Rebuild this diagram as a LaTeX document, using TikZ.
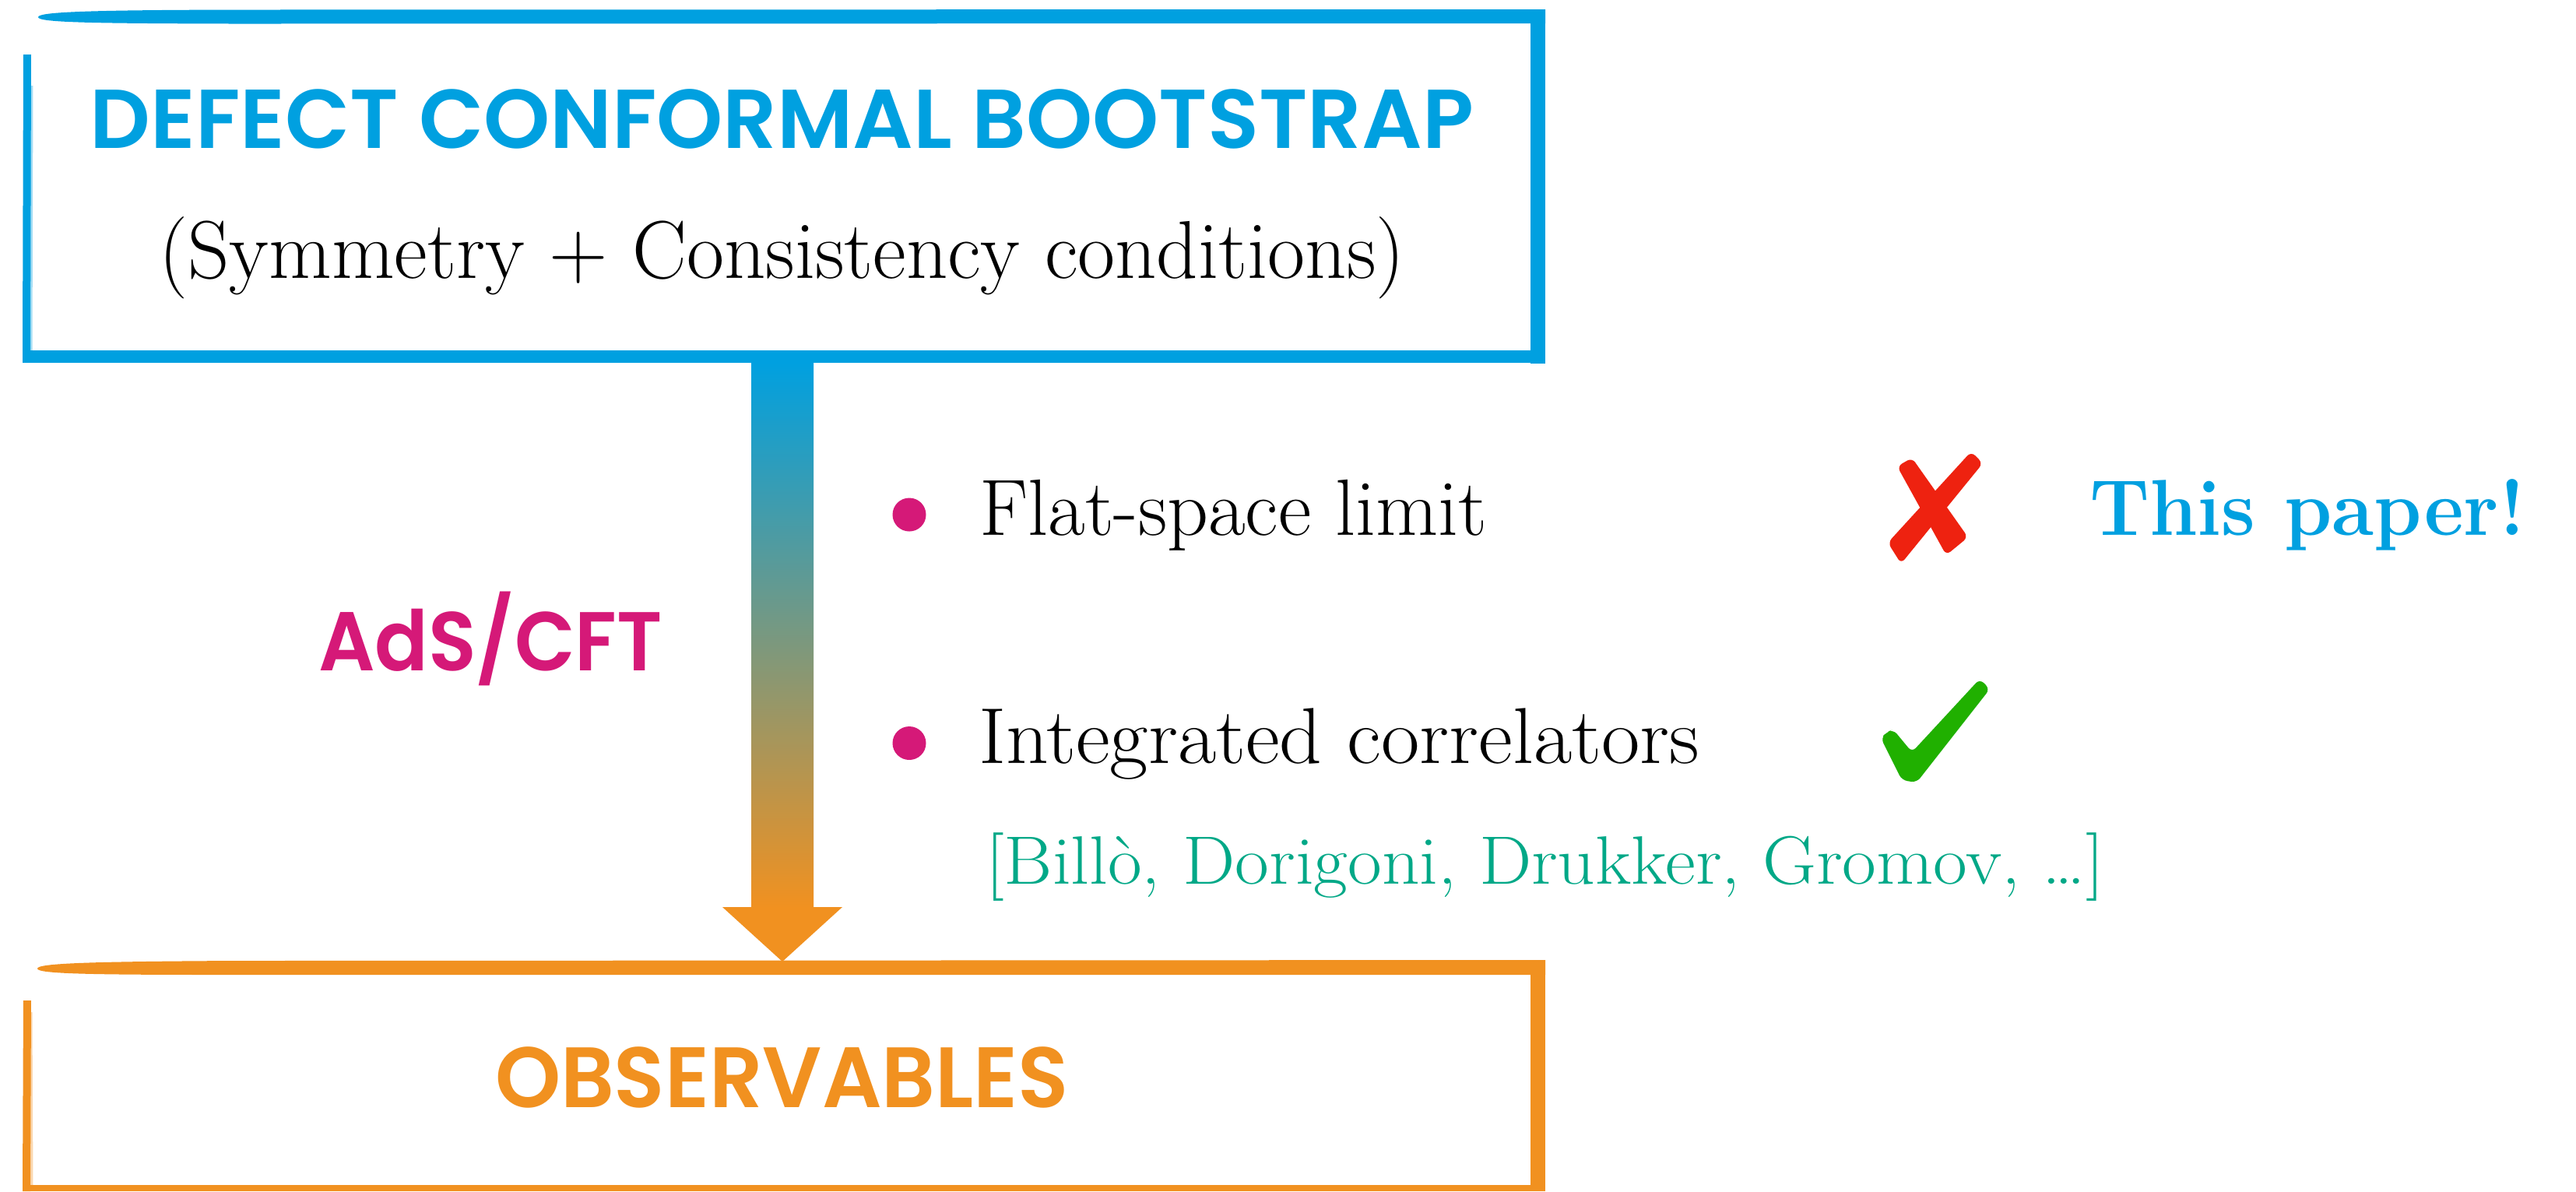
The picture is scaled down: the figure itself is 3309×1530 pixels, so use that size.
\documentclass[tikz,border=0pt]{standalone}
\usepackage{fontspec}
\usepackage{graphicx}
\usetikzlibrary{calc}
\newfontfamily\hfont{Poppins SemiBold}
\definecolor{blueC}{RGB}{0,160,224}
\definecolor{orangeC}{RGB}{241,145,32}
\definecolor{magentaC}{RGB}{213,25,120}
\definecolor{tealC}{RGB}{0,168,135}
\definecolor{greenC}{RGB}{32,176,0}
\definecolor{redC}{RGB}{238,34,16}
\newcommand{\fitto}[2]{\resizebox{#1}{\height}{#2}}
\tikzset{
  lbl/.style={inner sep=0pt, outer sep=0pt},
  boxarea/.style={draw=none, inner sep=0pt, rectangle},
  bulletdot/.style={circle, fill=magentaC, inner sep=0pt, minimum size=4.3mm},
}
\begin{document}
\begin{tikzpicture}[x=0.1mm,y=-0.1mm]
\fill[white] (0,0) rectangle (3309,1530);
\useasboundingbox (0,0) rectangle (3309,1530);

% box areas
\node[boxarea, minimum width=195.3mm, minimum height=45.5mm] (topbox) at (1008.5,239.5) {};
\node[boxarea, minimum width=195.3mm, minimum height=29.7mm] (botbox) at (1008.5,1381.5) {};

% top box border (sketchy)
\fill[blueC] (49,22) .. controls (49,15) and (120,13) .. (300,12.5) -- (1985,12) -- (1985,30) -- (300,30.5) .. controls (120,30) and (49,29) .. (49,22) -- cycle;
\fill[blueC] (1966,12) rectangle (1985,467);
\fill[blueC] (29,450) rectangle (1985,466);
\draw[blueC, line width=1mm] (35,70) -- (34,458);
\draw[blueC, opacity=0.35, line width=0.5mm] (40,110) -- (39,455);

% bottom box border (sketchy)
\fill[orangeC] (48,1244) .. controls (48,1237) and (120,1235) .. (300,1234) -- (1985,1233) -- (1985,1252) -- (300,1252) .. controls (120,1252) and (48,1251) .. (48,1244) -- cycle;
\fill[orangeC] (1966,1233) rectangle (1985,1530);
\fill[orangeC] (33,1522) rectangle (1985,1530);
\draw[orangeC, line width=1mm] (35,1285) -- (34,1530);
\draw[orangeC, opacity=0.35, line width=0.5mm] (39,1300) -- (40,1522);

% arrow
\coordinate (arrowtop) at (1005,466);
\coordinate (arrowtip) at (1005,1235);
\shade[top color=blueC, bottom color=orangeC] ($(arrowtop)+(-40,0)$) rectangle ($(arrowtip)+(40,-69)$);
\fill[orangeC] ($(arrowtip)+(-77,-70)$) -- ($(arrowtip)+(77,-70)$) -- (arrowtip) -- cycle;

% texts in boxes
\node[lbl, anchor=base, text=blueC] (title) at (1004.5,190)
  {\fitto{177.7mm}{\fontsize{30.5}{36}\hfont DEFECT CONFORMAL BOOTSTRAP}};
\node[lbl, anchor=base] (subtitle) at (1004.5,357)
  {\fitto{160mm}{\fontsize{30}{36}\selectfont (Symmetry + Consistency conditions)}};
\node[lbl, anchor=base, text=orangeC] (obs) at (1004.5,1422)
  {\fitto{73.7mm}{\fontsize{31.3}{36}\hfont OBSERVABLES}};

% side label
\node[lbl, anchor=base, text=magentaC] (ads) at (630,861)
  {\fitto{44.2mm}{\fontsize{30.5}{36}\hfont AdS/CFT}};

% bullets
\node[bulletdot] (b1) at (1168,661) {};
\node[bulletdot] (b2) at (1168,954.5) {};
\node[lbl, anchor=base west] (flat) at (1258,687)
  {\fitto{65.2mm}{\fontsize{29.2}{35}\selectfont Flat-space limit}};
\node[lbl, anchor=base west] (integ) at (1257,980)
  {\fitto{92.6mm}{\fontsize{29}{35}\selectfont Integrated correlators}};
\node[lbl, anchor=base west, text=tealC] (cite) at (1266,1135)
  {\fitto{143.7mm}{\fontsize{25}{30}\selectfont [Billò, Dorigoni, Drukker, Gromov, \ldots]}};
\node[lbl, anchor=base west, text=blueC] (paper) at (2684,687)
  {\fitto{56mm}{\fontsize{29}{35}\selectfont\bfseries This paper!}};

% red cross
\fill[redC, rounded corners=2] (2437,599) -- (2456,588) -- (2528,690) -- (2500,713) -- cycle;
\fill[redC, rounded corners=2] (2532,580) -- (2547,595) -- (2442,724) -- (2425,697) -- cycle;

% green check
\fill[greenC, rounded corners=2] (2416,948) -- (2424,940) -- (2432,937) -- (2456,966) -- (2543,872) -- (2556,885) -- (2462,1005) -- (2443,1002) -- cycle;
\end{tikzpicture}
\end{document}
